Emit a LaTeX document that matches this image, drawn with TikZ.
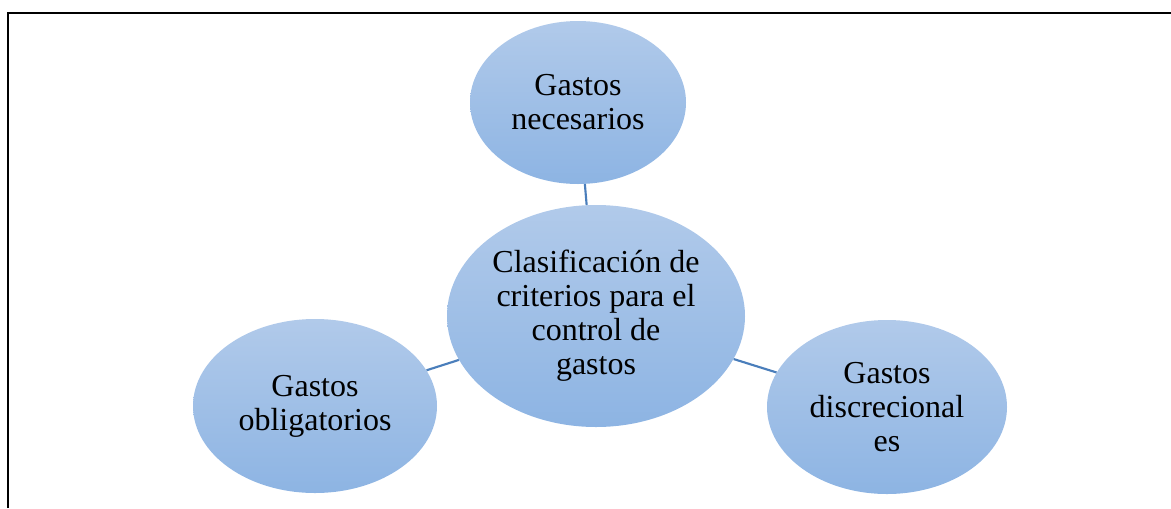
\documentclass[tikz,border=0pt]{standalone}
\usepackage{fontspec}
\setmainfont{Liberation Serif}
\usetikzlibrary{shapes.geometric}
\definecolor{topblue}{RGB}{177,202,234}
\definecolor{botblue}{RGB}{141,180,227}
\definecolor{linkblue}{RGB}{74,126,187}
\tikzset{
  bubble/.style={ellipse, inner sep=0pt, align=center, top color=topblue, bottom color=botblue, draw=none,
    font=\fontsize{24pt}{25.5pt}\selectfont},
  link/.style={draw=linkblue, line width=1.6pt},
  frame/.style={draw=black, line width=2pt}
}
\begin{document}
\begin{tikzpicture}[x=0.75pt,y=-0.75pt]
\useasboundingbox (0,0) rectangle (1171,508);
\coordinate (fb) at (8,508);
\coordinate (fc) at (8,13);
\coordinate (fr) at (1171,13);
\draw[frame] (fb) -- (fc) -- (fr);
\node[bubble, minimum width=216*0.75pt, minimum height=163*0.75pt] (top) at (578,102.5) {Gastos\\necesarios};
\node[bubble, minimum width=298*0.75pt, minimum height=222*0.75pt] (mid) at (596,316) {Clasificación de\\criterios para el\\control de\\gastos};
\node[bubble, minimum width=244*0.75pt, minimum height=174*0.75pt] (left) at (315,406) {Gastos\\obligatorios};
\node[bubble, minimum width=240*0.75pt, minimum height=174*0.75pt] (right) at (887,407) {Gastos\\discrecional\\es};
\draw[link] (top) -- (mid);
\draw[link] (left) -- (mid);
\draw[link] (mid) -- (right);
\end{tikzpicture}
\end{document}
